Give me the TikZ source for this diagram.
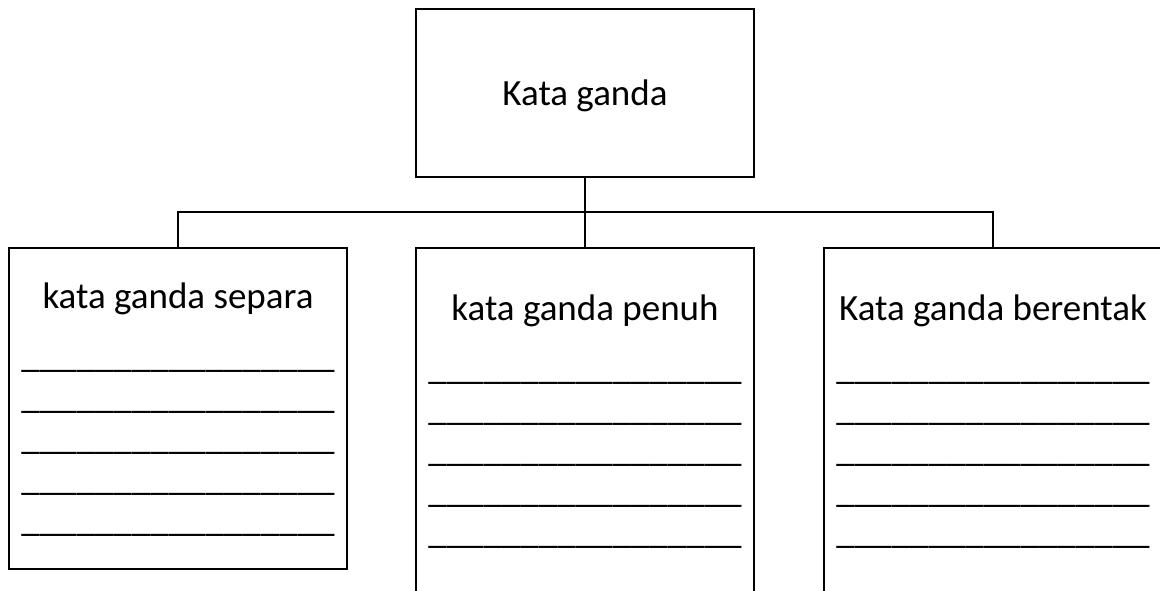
\documentclass[tikz,border=0pt]{standalone}
\usepackage{fontspec}
\setmainfont{Carlito}
\begin{document}
\begin{tikzpicture}[x=1pt,y=-1pt,
  box/.style={draw,line width=2.5pt,inner sep=0pt,minimum width=338pt},
  conn/.style={line width=2.2pt},
  lbl/.style={inner sep=0pt,anchor=base,font=\fontsize{37}{44}\selectfont},
  blank/.style={inner sep=0pt,anchor=base,font=\fontsize{37}{44}\selectfont}]
\useasboundingbox (0,0) rectangle (1160,590);
\clip (0,0) rectangle (1160,590);
\fill[white] (0,0) rectangle (1160,590);
% boxes
\node[box,minimum height=168pt] (top) at (585,93) {};
\node[box,minimum height=321pt] (l) at (178,408.5) {};
\node[box,minimum height=400pt] (m) at (585,448) {};
\node[box,minimum height=400pt] (r) at (993,448) {};
% connectors
\coordinate (bus) at (585,212);
\draw[conn] (top.south) -- (bus);
\draw[conn] (l.north) |- (bus) -| (r.north);
\draw[conn] (bus) -- (m.north);
% titles
\node[lbl] (t0) at (585,105) {Kata ganda};
\node[lbl] (t1) at (178,308) {kata ganda separa};
\node[lbl] (t2) at (585,320) {kata ganda penuh};
\node[lbl] (t3) at (993,320) {Kata ganda berentak};
% blanks
\foreach \i/\y in {1/367,2/408,3/449,4/490,5/531}{
  \node[blank] (la\i) at (178,\y) {\_\_\_\_\_\_\_\_\_\_\_\_\_\_\_\_\_};
}
\foreach \i/\y in {1/379,2/420,3/461,4/502,5/543}{
  \node[blank] (ma\i) at (585,\y) {\_\_\_\_\_\_\_\_\_\_\_\_\_\_\_\_\_};
  \node[blank] (ra\i) at (993,\y) {\_\_\_\_\_\_\_\_\_\_\_\_\_\_\_\_\_};
}
\end{tikzpicture}
\end{document}
